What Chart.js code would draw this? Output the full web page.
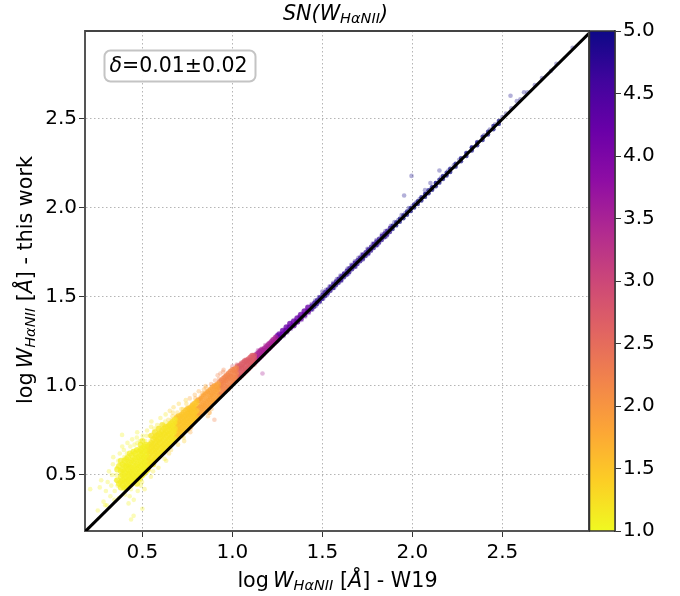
<!DOCTYPE html>
<html lang="en">
<head>
<meta charset="UTF-8">
<title>SN(W_HaNII)</title>
<script src="https://cdn.jsdelivr.net/npm/chart.js"></script>
<style>
    body { margin: 0; background: #fff; }
    canvas { position: absolute; top: 0; }
    #grafico { left: 0; }
    #barra { left: 589px; }
</style>
</head>
<body>
<canvas id="grafico" width="680" height="596"></canvas>
<canvas id="barra" width="91" height="596"></canvas>
<script>
    var axisTicks = [0.5, 1.0, 1.5, 2.0, 2.5];
    var colorTicks = [1.0, 1.5, 2.0, 2.5, 3.0, 3.5, 4.0, 4.5, 5.0];
    var colorRange = [1, 5];
    var lineEnds = [0.18, 2.99];

    // scattered points around the band, one pair of arrays per S/N colour bin
    var snBins = [1.05, 1.15, 1.4, 1.8, 2.2, 2.8, 3.5, 4.3, 4.8, 4.95];

    var xBin0 = [.21,.252,.263,.271,.284,.293,.302,.297,.314,.307,.322,.336,.327,.331,.344,.338,.353,.346,.358,.366,.354,.362,.374,.368,.377,.383,.376,.388,.387,.394,.399,.385,.404,.397,.408,.402,.412,.417,.406,.419,.423,.414,.427,.418,.433,.426,.438,.429,.437,.443,.448,.432,.441,.436,.451,.446,.456,.442,.458,.463,.454,.467,.452,.469,.472,.461,.478,.466,.474,.483,.476,.488,.471,.494,.486,.497,.482,.491,.50,.506,.493,.512,.502,.487];
    var yBin0 = [.42,.30,.43,.47,.35,.33,.33,.41,.52,.46,.38,.56,.44,.50,.36,.60,.47,.41,.54,.58,.50,.44,.62,.37,.53,.47,.56,.66,.725,.42,.60,.51,.39,.64,.55,.47,.58,.68,.43,.51,.34,.62,.55,.47,.66,.59,.52,.38,.25,.70,.63,.56,.49,.42,.27,.60,.67,.53,.46,.64,.57,.50,.36,.71,.68,.61,.54,.47,.41,.65,.58,.51,.74,.62,.69,.55,.50,.44,.31,.60,.66,.54,.72,.47];

    var xBin1 = [.507,.492,.516,.503,.521,.498,.526,.513,.509,.531,.524,.518,.537,.528,.512,.533,.544,.526,.539,.548,.55,.541,.557,.536,.552,.547,.563,.554,.545,.568,.559,.572,.561,.576,.566,.553,.582,.571,.587,.574,.569,.593,.584,.578,.598,.589,.60,.591,.607,.582,.613,.603,.618,.596,.609,.623,.627,.611,.634,.617,.605,.629,.638,.621,.643,.615,.632,.647,.626,.653,.641];
    var yBin1 = [.56,.63,.69,.59,.53,.46,.75,.65,.61,.56,.72,.67,.58,.53,.42,.63,.69,.60,.55,.77,.80,.72,.65,.61,.57,.49,.74,.68,.63,.59,.52,.70,.65,.61,.76,.56,.78,.72,.67,.63,.59,.74,.69,.65,.61,.54,.82,.76,.71,.67,.63,.73,.78,.69,.65,.59,.80,.75,.71,.67,.62,.84,.77,.73,.69,.65,.58,.79,.75,.71,.67];

    var xBin2 = [.652,.644,.658,.639,.663,.648,.667,.654,.671,.661,.646,.673,.664,.678,.656,.682,.669,.684,.675,.692,.659,.687,.696,.681,.671,.702,.694,.706,.689,.712,.698,.715,.683,.708,.721,.716,.703,.727,.711,.732,.719,.737,.706,.741,.725,.746,.733,.751,.729,.755,.738,.761,.744];
    var yBin2 = [.86,.81,.77,.73,.69,.62,.83,.79,.75,.71,.67,.88,.81,.77,.73,.69,.85,.79,.75,.71,.64,.83,.78,.74,.70,.90,.85,.80,.76,.72,.67,.83,.79,.75,.72,.87,.82,.78,.74,.69,.85,.80,.76,.92,.87,.83,.79,.75,.71,.85,.81,.77,.90];

    var xBin3 = [.763,.755,.772,.748,.767,.778,.761,.784,.769,.791,.774,.796,.782,.766,.801,.787,.807,.776,.813,.794,.819,.805,.788,.771,.824,.811,.829,.798,.833,.817,.838,.809,.786,.842,.823,.847,.816,.852,.835,.858,.827,.864,.844,.869,.831,.873,.851,.879,.839,.884,.861,.891,.846,.872];
    var yBin3 = [.93,.88,.84,.80,.76,.90,.86,.82,.78,.95,.89,.85,.81,.74,.91,.87,.83,.79,.97,.93,.89,.85,.81,.77,.94,.90,.86,.83,.96,.91,.88,.84,.80,.98,.93,.89,.85,.99,.95,.91,.87,.83,.96,.92,.88,.85,1.0,.94,.90,.87,.97,.93,.89,.85];

    var xBin4 = [.882,.876,.894,.868,.897,.886,.903,.904,.889,.911,.878,.90,.913,.898,.921,.926,.907,.931,.893,.918,.936,.924,.941,.914,.946,.933,.952,.928,.957,.939,.962,.948,.968,.943,.973,.955,.979,.951,.986,.964];
    var yBin4 = [1.01,.96,.92,.89,1.0,.95,.91,1.03,.98,.94,.91,.81,1.01,.96,.93,1.04,.98,.95,.91,1.06,1.0,.96,1.02,.98,.95,1.07,1.03,.99,1.05,1.01,.97,1.08,1.03,.99,1.06,1.02,.98,1.09,1.04,1.0];

    var xBin5 = [1.0,.992,1.004,1.012,1.017,1.024,1.028,1.031,1.036,1.041,1.047,1.052,1.056,1.062,1.066,1.071,1.076,1.082,1.087,1.091,1.096,1.103,1.107,1.112,1.118,1.123];
    var yBin5 = [1.11,1.06,1.02,1.08,1.03,1.12,1.07,1.04,1.1,1.05,1.13,1.07,1.11,1.07,1.14,1.09,1.15,1.09,1.12,1.1,1.15,1.11,1.17,1.12,1.15,1.12];

    var xBin6 = [1.13,1.124,1.134,1.142,1.147,1.153,1.158,1.164,1.169,1.167,1.174,1.182,1.187,1.192,1.201,1.206,1.212,1.221,1.226,1.232,1.241,1.246,1.251];
    var yBin6 = [1.18,1.14,1.16,1.2,1.16,1.19,1.17,1.21,1.18,1.07,1.2,1.23,1.2,1.22,1.24,1.21,1.24,1.26,1.23,1.25,1.27,1.25,1.27];

    var xBin7 = [1.26,1.264,1.27,1.28,1.285,1.29,1.3,1.305,1.31,1.32,1.325,1.33,1.34,1.345,1.35,1.36,1.365,1.37,1.38,1.385,1.4,1.405,1.42,1.425,1.44,1.445];
    var yBin7 = [1.29,1.27,1.29,1.31,1.28,1.31,1.33,1.3,1.33,1.35,1.32,1.34,1.37,1.34,1.36,1.38,1.36,1.39,1.4,1.37,1.42,1.39,1.44,1.41,1.46,1.43];

    var xBin8 = [1.46,1.465,1.48,1.485,1.5,1.505,1.52,1.525,1.54,1.56,1.565,1.58,1.6,1.605,1.62,1.64,1.645,1.66,1.68,1.685,1.7,1.72,1.725,1.75,1.755,1.78,1.8,1.805,1.83,1.85,1.855,1.88];
    var yBin8 = [1.48,1.45,1.5,1.47,1.53,1.49,1.54,1.51,1.56,1.58,1.55,1.6,1.62,1.59,1.63,1.66,1.63,1.68,1.7,1.67,1.72,1.74,1.71,1.77,1.74,1.8,1.82,1.79,1.85,1.87,1.84,1.9];

    var xBin9 = [1.9,1.92,1.94,1.954,1.96,1.98,1.995,2.0,2.02,2.04,2.07,2.075,2.1,2.105,2.13,2.15,2.16,2.2,2.23,2.26,2.3,2.33,2.36,2.4,2.43,2.46,2.5,2.52,2.545,2.55,2.58,2.6,2.62,2.64,2.68,2.72,2.77,2.8,2.89];
    var yBin9 = [1.92,1.93,1.96,2.07,1.97,2.0,2.18,2.01,2.03,2.05,2.1,2.08,2.14,2.11,2.14,2.21,2.17,2.21,2.24,2.27,2.31,2.34,2.37,2.41,2.44,2.47,2.51,2.53,2.63,2.56,2.6,2.61,2.65,2.65,2.69,2.73,2.77,2.81,2.9];

    var xBins = [xBin0, xBin1, xBin2, xBin3, xBin4, xBin5, xBin6, xBin7, xBin8, xBin9];
    var yBins = [yBin0, yBin1, yBin2, yBin3, yBin4, yBin5, yBin6, yBin7, yBin8, yBin9];

    // dense core of the band where the points pile up
    var snCore = [1.1, 1.2, 1.5, 1.85, 2.2, 2.7, 3.5, 4.2, 4.8, 5.0, 1.1, 1.2, 1.5, 4.8, 5.0];

    var xCore0 = [.38,.38,.39,.39,.39,.40,.40,.40,.41,.41,.41,.42,.42,.42,.43,.43,.43,.44,.44,.44,.45,.45,.45,.46,.46,.46,.47,.47,.47,.48,.48,.48,.49,.49,.49,.50,.50,.50,.51,.51,.51,.52,.52,.52];
    var yCore0 = [.46,.52,.44,.50,.56,.46,.52,.58,.43,.49,.55,.47,.53,.60,.45,.51,.57,.48,.54,.61,.46,.52,.58,.49,.55,.62,.50,.56,.60,.51,.57,.63,.52,.58,.64,.53,.59,.65,.54,.60,.66,.55,.61,.67];

    var xCore1 = [.53,.53,.53,.54,.54,.54,.55,.55,.55,.56,.56,.56,.57,.57,.57,.58,.58,.58,.59,.59,.59,.60,.60,.60,.61,.61,.61,.62,.62,.62,.63,.63,.63,.64,.64,.64,.65,.65,.65,.66,.66,.66,.67,.67,.67,.68,.68,.68];
    var yCore1 = [.55,.60,.66,.56,.62,.67,.57,.63,.68,.58,.64,.70,.59,.65,.71,.60,.66,.72,.61,.67,.73,.62,.68,.73,.63,.69,.75,.64,.70,.76,.65,.71,.77,.66,.72,.77,.67,.73,.78,.68,.74,.79,.69,.75,.80,.70,.76,.81];

    var xCore2 = [.69,.69,.69,.70,.70,.70,.71,.71,.71,.72,.72,.72,.73,.73,.73,.74,.74,.74,.75,.75,.75,.76,.76,.76,.77,.77,.77,.78,.78,.78,.79,.79,.79,.80,.80,.80];
    var yCore2 = [.71,.76,.82,.72,.77,.83,.73,.78,.83,.74,.79,.84,.75,.80,.85,.76,.81,.86,.77,.82,.87,.78,.83,.87,.79,.84,.88,.80,.85,.89,.81,.85,.90,.82,.86,.91];

    var xCore3 = [.81,.81,.81,.82,.82,.82,.83,.83,.83,.84,.84,.84,.85,.85,.85,.86,.86,.86,.87,.87,.87,.88,.88,.88,.89,.89,.89,.90,.90,.90,.91,.91,.91,.92,.92,.92];
    var yCore3 = [.83,.87,.92,.84,.88,.92,.85,.89,.93,.86,.90,.94,.87,.91,.95,.88,.92,.96,.89,.93,.97,.90,.94,.98,.91,.95,.99,.92,.96,1.0,.93,.97,1.0,.94,.98,1.01];

    var xCore4 = [.93,.93,.93,.94,.94,.94,.95,.95,.95,.96,.96,.96,.97,.97,.97,.98,.98,.98,.99,.99,.99,1.0,1.0,1.0,1.01,1.01,1.01,1.02,1.02,1.02];
    var yCore4 = [.95,.99,1.02,.96,1.0,1.03,.97,1.01,1.04,.98,1.02,1.05,.99,1.03,1.06,1.0,1.04,1.07,1.01,1.05,1.08,1.02,1.05,1.09,1.03,1.06,1.09,1.04,1.07,1.1];

    var xCore5 = [1.03,1.03,1.03,1.04,1.04,1.04,1.05,1.05,1.05,1.06,1.06,1.06,1.07,1.07,1.07,1.08,1.08,1.08,1.09,1.09,1.09,1.1,1.1,1.1,1.11,1.11,1.11,1.12,1.12,1.12];
    var yCore5 = [1.05,1.08,1.11,1.05,1.09,1.11,1.06,1.1,1.12,1.07,1.1,1.13,1.08,1.11,1.14,1.09,1.12,1.14,1.1,1.13,1.15,1.11,1.14,1.16,1.12,1.14,1.17,1.13,1.15,1.17];

    var xCore6 = [1.13,1.13,1.14,1.14,1.15,1.15,1.16,1.16,1.17,1.17,1.18,1.18,1.19,1.19,1.2,1.2,1.21,1.21,1.22,1.22,1.23,1.23,1.24,1.24];
    var yCore6 = [1.14,1.17,1.15,1.18,1.16,1.19,1.17,1.2,1.18,1.2,1.19,1.21,1.2,1.22,1.21,1.23,1.22,1.24,1.23,1.25,1.24,1.26,1.25,1.27];

    var xCore7 = [1.25,1.25,1.26,1.26,1.28,1.28,1.3,1.3,1.32,1.32,1.34,1.34,1.36,1.36,1.38,1.38,1.4,1.4,1.42,1.42];
    var yCore7 = [1.26,1.28,1.27,1.29,1.29,1.31,1.31,1.33,1.33,1.35,1.34,1.36,1.36,1.38,1.38,1.4,1.4,1.42,1.42,1.44];

    var xCore8 = [1.44,1.455,1.47,1.485,1.5,1.515,1.53,1.545,1.56,1.575,1.59,1.605,1.62,1.635,1.65,1.665,1.68,1.695,1.71,1.725,1.74,1.755,1.77,1.785,1.8,1.815,1.83,1.845,1.86,1.875];
    var yCore8 = [1.452,1.445,1.482,1.475,1.512,1.505,1.542,1.535,1.572,1.565,1.602,1.595,1.632,1.625,1.662,1.655,1.692,1.685,1.722,1.715,1.752,1.745,1.782,1.775,1.812,1.805,1.842,1.835,1.872,1.865];
    var yCore8b = [1.43,1.467,1.46,1.497,1.49,1.527,1.52,1.557,1.55,1.587,1.58,1.617,1.61,1.647,1.64,1.677,1.67,1.707,1.70,1.737,1.73,1.767,1.76,1.797,1.79,1.827,1.82,1.857,1.85,1.887];

    var xCore9 = [1.89,1.91,1.93,1.95,1.97,1.99,2.01,2.03,2.05,2.07,2.09,2.11,2.13,2.15,2.17,2.19,2.21,2.24,2.27,2.3,2.33,2.36,2.39,2.42,2.45,2.48];
    var yCore9 = [1.9,1.902,1.94,1.942,1.98,1.982,2.02,2.022,2.06,2.062,2.1,2.102,2.14,2.142,2.18,2.182,2.22,2.232,2.28,2.292,2.34,2.352,2.4,2.412,2.46,2.472];
    var yCore9b = [1.882,1.918,1.922,1.958,1.962,1.998,2.002,2.038,2.042,2.078,2.082,2.118,2.122,2.158,2.162,2.198,2.202,2.248,2.262,2.308,2.322,2.368,2.382,2.428,2.442,2.488];

    var xFill0 = [.36,.36,.37,.37,.38,.38,.38,.39,.39,.40,.40,.40,.41,.41,.41,.42,.42,.42,.43,.43,.43,.44,.44,.44,.45,.45,.45,.46,.46,.46,.47,.47,.47,.48,.48,.48,.49,.49,.49,.49,.50,.50,.50,.50,.51,.51,.51,.52,.52,.52];
    var yFill0 = [.47,.53,.45,.55,.49,.43,.58,.47,.53,.49,.55,.43,.46,.52,.59,.44,.50,.56,.48,.54,.62,.45,.51,.58,.49,.55,.63,.47,.52,.59,.53,.45,.64,.48,.54,.60,.49,.55,.61,.67,.50,.56,.62,.69,.51,.57,.63,.52,.58,.64];

    var xFill1 = [.53,.53,.53,.54,.54,.55,.55,.55,.56,.56,.56,.57,.57,.57,.58,.58,.59,.59,.59,.60,.60,.61,.61,.61,.62,.62,.63,.63,.64,.64,.65,.65,.66,.66,.67,.67,.68,.68];
    var yFill1 = [.575,.63,.53,.59,.645,.60,.655,.72,.61,.67,.56,.62,.68,.74,.63,.69,.64,.70,.76,.65,.705,.66,.72,.78,.67,.73,.68,.74,.69,.745,.70,.755,.71,.765,.72,.775,.73,.785];

    var xFill2 = [.69,.69,.70,.70,.71,.71,.72,.72,.73,.73,.74,.74,.75,.75,.76,.76,.77,.77,.78,.78,.79,.79,.80,.80];
    var yFill2 = [.735,.79,.745,.80,.755,.805,.765,.815,.775,.825,.785,.835,.795,.845,.805,.85,.815,.86,.825,.87,.83,.875,.84,.885];

    var xCores = [xCore0, xCore1, xCore2, xCore3, xCore4, xCore5, xCore6, xCore7, xCore8, xCore9, xFill0, xFill1, xFill2, xCore8, xCore9];
    var yCores = [yCore0, yCore1, yCore2, yCore3, yCore4, yCore5, yCore6, yCore7, yCore8, yCore9, yFill0, yFill1, yFill2, yCore8b, yCore9b];

    // plasma colormap stops, reversed through corPlasma
    var plasma = [[13,8,135],[65,4,157],[106,0,168],[143,13,164],[177,42,144],[204,71,120],[225,100,98],[242,132,75],[252,166,54],[252,206,37],[240,249,33]];

    function corPlasma(sn, alpha) {
        var t = (colorRange[1] - sn) / (colorRange[1] - colorRange[0]) * 10;
        var i = Math.min(Math.floor(t), 9);
        var f = t - i;
        var c = [0, 1, 2].map(k => Math.round(plasma[i][k] + (plasma[i + 1][k] - plasma[i][k]) * f));
        return 'rgba(' + c[0] + ',' + c[1] + ',' + c[2] + ',' + alpha + ')';
    }

    var fonte = '"DejaVu Sans"';

    // draws text runs one after the other, since the library title has no subscripts
    function larguraRuns(ctx, runs) {
        var w = 0;
        runs.forEach(r => {
            ctx.font = (r.italic ? 'italic ' : '') + r.size + 'px ' + fonte;
            w += ctx.measureText(r.t).width;
        });
        return w;
    }

    function desenhaRuns(ctx, runs, cx, cy) {
        var x = cx - larguraRuns(ctx, runs) / 2;
        ctx.textAlign = 'left';
        ctx.textBaseline = 'alphabetic';
        ctx.fillStyle = '#000';
        runs.forEach(r => {
            ctx.font = (r.italic ? 'italic ' : '') + r.size + 'px ' + fonte;
            ctx.fillText(r.t, x, cy + (r.drop || 0));
            x += ctx.measureText(r.t).width;
        });
    }

    var rotuloW = [
        { t: 'log\u2009', size: 20.7 },
        { t: 'W', size: 20.7, italic: true },
        { t: 'HαNII', size: 14.5, italic: true, drop: 3 }
    ];

    var extras = {
        id: 'extras',
        afterDatasetsDraw(chart) {
            var ctx = chart.ctx, a = chart.chartArea;
            ctx.save();
            // upper and right frame of the axes
            ctx.strokeStyle = '#444';
            ctx.lineWidth = 2;
            ctx.beginPath();
            ctx.moveTo(a.left, a.top);
            ctx.lineTo(a.right, a.top);
            ctx.lineTo(a.right, a.bottom);
            ctx.stroke();

            // delta box
            ctx.beginPath();
            ctx.roundRect(104.5, 50.5, 151, 31, 6);
            ctx.fillStyle = 'rgba(255,255,255,0.9)';
            ctx.fill();
            ctx.strokeStyle = '#c4c4c4';
            ctx.lineWidth = 2;
            ctx.stroke();
            desenhaRuns(ctx, [
                { t: 'δ', size: 20.5, italic: true },
                { t: '=0.01±0.02', size: 20.5 }
            ], 178.5, 72);

            desenhaRuns(ctx, [
                { t: 'SN(', size: 20.7, italic: true },
                { t: 'W', size: 20.7, italic: true },
                { t: 'HαNII', size: 14.5, italic: true, drop: 3 },
                { t: ')', size: 20.7, italic: true }
            ], 335.5, 20);

            desenhaRuns(ctx, rotuloW.concat([{ t: ' [', size: 20.7 }, { t: 'Å', size: 20.7, italic: true }, { t: '] - W19', size: 20.7 }]), 337.5, 587);

            ctx.translate(32, 280);
            ctx.rotate(-Math.PI / 2);
            desenhaRuns(ctx, rotuloW.concat([{ t: ' [', size: 20.7 }, { t: 'Å', size: 20.7, italic: true }, { t: '] - this work', size: 20.7 }]), 0, 0);
            ctx.restore();
        }
    };

    var datasets = [];
    snBins.forEach((sn, i) => {
        datasets.push({
            data: xBins[i].map((x, j) => ({ x: x, y: yBins[i][j] })),
            backgroundColor: corPlasma(sn, 0.32),
            borderWidth: 0,
            pointRadius: 2.3,
            order: 3
        });
    });
    snCore.forEach((sn, i) => {
        datasets.push({
            data: xCores[i].map((x, j) => ({ x: x, y: yCores[i][j] })),
            backgroundColor: corPlasma(sn, 0.7),
            borderWidth: 0,
            pointRadius: sn < 4.5 ? 3 : 2.2,
            order: 2
        });
    });
    datasets.push({
        data: lineEnds.map(v => ({ x: v, y: v })),
        showLine: true,
        borderColor: '#000',
        borderWidth: 3,
        pointRadius: 0,
        order: 1
    });

    function eixo(position, min, max, largura) {
        return {
            type: 'linear',
            position: position,
            min: min,
            max: max,
            afterBuildTicks(scale) { scale.ticks = axisTicks.map(v => ({ value: v })); },
            afterFit(scale) {
                if (position == 'left') scale.width = largura;
                else scale.height = largura;
            },
            border: { display: true, color: '#555', width: 2, dash: [1.5, 2.5] },
            grid: {
                color: '#b5b5b5',
                lineWidth: 1,
                tickColor: '#333',
                tickBorderDash: [],
                tickLength: 6,
                drawOnChartArea: true
            },
            ticks: {
                color: '#000',
                font: { family: fonte, size: 20 },
                padding: position == 'left' ? 2 : 4,
                maxRotation: 0,
                callback: v => v.toFixed(1)
            }
        };
    }

    new Chart(document.getElementById('grafico').getContext('2d'), {
        type: 'scatter',
        data: { datasets: datasets },
        options: {
            responsive: false,
            animation: false,
            layout: { padding: { top: 31, right: 91, left: 0, bottom: 0 } },
            plugins: { legend: { display: false }, tooltip: { enabled: false } },
            scales: {
                x: eixo('bottom', 0.181, 2.981, 65),
                y: eixo('left', 0.185, 2.994, 85)
            }
        },
        plugins: [extras]
    });

    // colour bar: one floating bar from 1 to 5 filled with the colormap
    new Chart(document.getElementById('barra').getContext('2d'), {
        type: 'bar',
        data: {
            labels: ['SN'],
            datasets: [{
                data: [colorRange],
                barPercentage: 1,
                categoryPercentage: 1,
                borderWidth: 0,
                backgroundColor(ctx) {
                    var a = ctx.chart.chartArea;
                    if (!a) return '#000';
                    var g = ctx.chart.ctx.createLinearGradient(0, a.top, 0, a.bottom);
                    plasma.forEach((c, i) => g.addColorStop(i / 10, 'rgb(' + c.join(',') + ')'));
                    return g;
                }
            }]
        },
        options: {
            responsive: false,
            animation: false,
            layout: { padding: { top: 31, bottom: 65, left: 0, right: 0 } },
            plugins: { legend: { display: false }, tooltip: { enabled: false } },
            scales: {
                x: { display: false },
                y: {
                    position: 'right',
                    min: colorRange[0],
                    max: colorRange[1],
                    afterBuildTicks(scale) { scale.ticks = colorTicks.map(v => ({ value: v })); },
                    afterFit(scale) { scale.width = 65; },
                    border: { display: true, color: '#333', width: 1.5 },
                    grid: { drawOnChartArea: false, tickColor: '#333', tickLength: 6 },
                    ticks: {
                        color: '#000',
                        font: { family: fonte, size: 20 },
                        padding: 2,
                        callback: v => v.toFixed(1)
                    }
                }
            }
        },
        plugins: [{
            id: 'contorno',
            afterDatasetsDraw(chart) {
                var a = chart.chartArea, ctx = chart.ctx;
                ctx.save();
                ctx.strokeStyle = '#333';
                ctx.lineWidth = 1.5;
                ctx.strokeRect(a.left + 0.5, a.top, a.right - a.left - 0.5, a.bottom - a.top);
                ctx.restore();
            }
        }]
    });
</script>
</body>
</html>
